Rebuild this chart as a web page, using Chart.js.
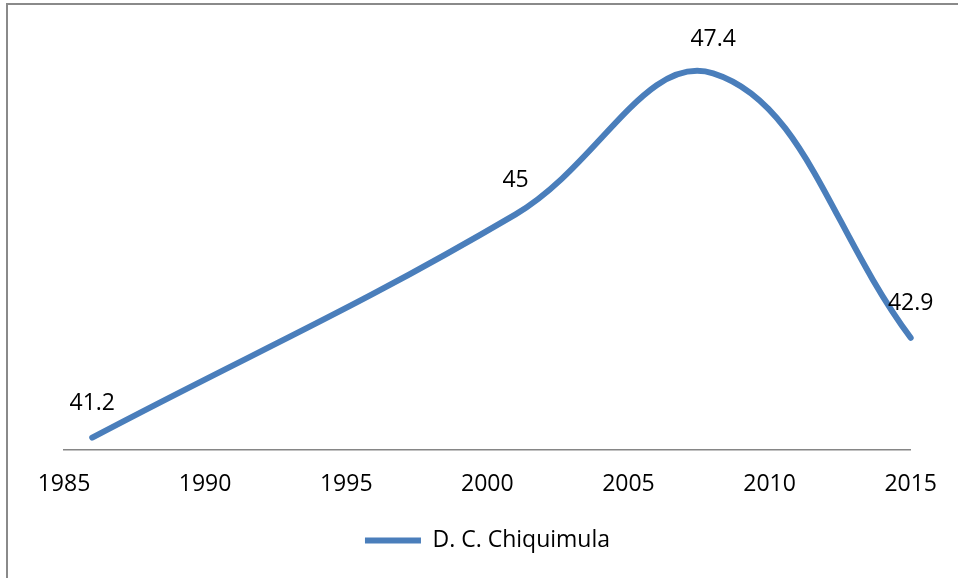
<!DOCTYPE html>
<html>
<head>
<meta charset="utf-8">
<script src="https://cdn.jsdelivr.net/npm/chart.js@4/dist/chart.umd.min.js"></script>
<style>
  html, body { margin: 0; padding: 0; background: #fff; overflow: hidden; }
  #wrap { position: relative; width: 958px; height: 578px; }
  #frame { position: absolute; left: 6px; top: 3px; width: 1000px; height: 600px;
           border-left: 2px solid #8a8a8a; border-top: 2px solid #8a8a8a; }
  canvas { position: absolute; left: 0; top: 0; }
</style>
</head>
<body>
<div id="wrap">
  <div id="frame"></div>
  <canvas id="line_chart" width="958" height="578"></canvas>
</div>
<script>
var years = [1986, 2001, 2008, 2015];
var values = [41.2, 45, 47.4, 42.9];
var seriesName = 'D. C. Chiquimula';
var axisMin = 1985, axisMax = 2015, axisStep = 5;

var fontName = "'Open Sans', 'Noto Sans', sans-serif";

// draws the value above every point
var pointLabels = {
    id: 'pointLabels',
    afterDatasetsDraw: function(chart){
        var ctx = chart.ctx;
        var meta = chart.getDatasetMeta(0);
        ctx.save();
        ctx.font = '23px ' + fontName;
        ctx.fillStyle = '#000';
        ctx.textAlign = 'center';
        ctx.textBaseline = 'middle';
        meta.data.forEach(function(pt, i){
            ctx.fillText(String(values[i]), pt.x, pt.y - 34);
        });
        ctx.restore();
    }
};

var points = [];
for (var i = 0; i < years.length; i++) {
    points.push({x: years[i], y: values[i]});
}

var chart = new Chart(document.getElementById('line_chart').getContext('2d'), {
    type: 'line',
    data: {
        datasets: [{
            label: seriesName,
            data: points,
            borderColor: '#4a7ebb',
            backgroundColor: '#4a7ebb',
            borderWidth: 6,
            borderCapStyle: 'round',
            borderJoinStyle: 'round',
            pointRadius: 0,
            pointHoverRadius: 0,
            tension: 0.4,
            clip: false,
            fill: false
        }]
    },
    options: {
        responsive: false,
        animation: false,
        layout: { padding: { left: 64, right: 47, top: 38, bottom: 16 } },
        scales: {
            x: {
                type: 'linear',
                min: axisMin,
                max: axisMax,
                grid: { display: false, drawTicks: false },
                border: { display: true, color: '#868686', width: 1.5 },
                ticks: {
                    stepSize: axisStep,
                    padding: 21,
                    color: '#000',
                    font: { family: fontName, size: 23 },
                    callback: function(v){ return String(v); }
                }
            },
            y: {
                display: false,
                min: 41,
                max: 48
            }
        },
        plugins: {
            legend: {
                position: 'bottom',
                labels: {
                    usePointStyle: true,
                    pointStyle: 'line',
                    pointStyleWidth: 56,
                    padding: 10,
                    color: '#000',
                    font: { family: fontName, size: 23 }
                }
            },
            tooltip: { enabled: false }
        }
    },
    plugins: [pointLabels]
});
</script>
</body>
</html>
